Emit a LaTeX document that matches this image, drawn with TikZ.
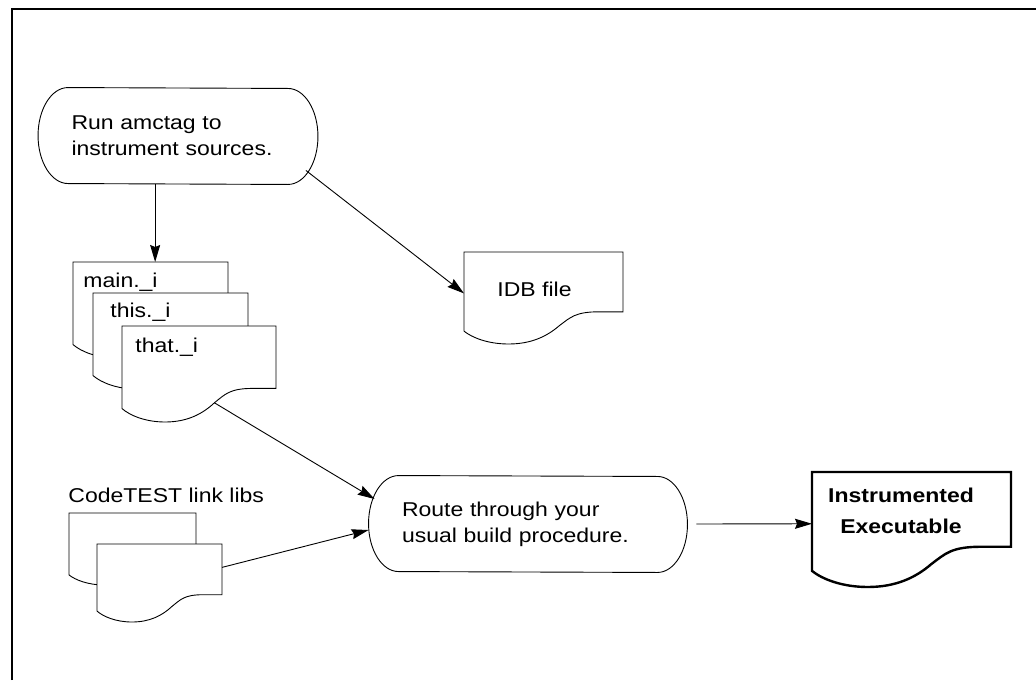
\documentclass[tikz,border=0pt]{standalone}
\usepackage{fontspec}
\setmainfont{Liberation Sans}[FakeStretch=1.15]
\usetikzlibrary{arrows.meta}

\tikzset{
  docpage/.pic={
    \draw[fill=white] (0,0) -- (1,0) -- (1,-0.65) -- (0.85,-0.65)
      .. controls (0.7,-0.65) and (0.67,-0.71) .. (0.6,-0.8)
      .. controls (0.52,-0.92) and (0.42,-1) .. (0.28,-1)
      .. controls (0.15,-1) and (0.05,-0.93) .. (0,-0.86) -- cycle;
    \coordinate (-top) at (0.53,0);
    \coordinate (-wave) at (0.6,-0.8);
    \coordinate (-west) at (0,-0.45);
    \coordinate (-east) at (1,-0.3);
  }
}
\newcommand{\capsule}[1]{%
  \draw ([xshift=30pt]#1.north west)
    arc[start angle=90,end angle=270,x radius=30pt,y radius=48pt]
    -- ([xshift=-30pt]#1.south east)
    arc[start angle=-90,end angle=90,x radius=30pt,y radius=48pt] -- cycle;}

\begin{document}
\begin{tikzpicture}[x=1pt,y=1pt,line width=0.9pt,
    every node/.style={font=\fontsize{20pt}{26pt}\selectfont},
    terminal/.style={minimum height=96pt,inner xsep=33pt,inner ysep=0pt,align=left},
    lbl/.style={anchor=base west,inner sep=0pt},
    flow/.style={-{Stealth[length=17pt,width=10pt,inset=2pt]}},
    frame/.style={line width=1.5pt}]
  \useasboundingbox (0,0) rectangle (1036,-680);
  \draw[frame] (12,-680) -- (12,-9) -- (1036,-9);

  \node[terminal,text width=213pt] (run) at (178,-136) {Run amctag to\\instrument sources.};
  \capsule{run}
  \node[terminal,text width=252pt] (route) at (528,-524) {Route through your\\usual build procedure.};
  \capsule{route}

  \pic[xscale=155,yscale=96] (main) at (73,-262) {docpage};
  \node[lbl] (main-txt) at (83,-287) {main.\_i};
  \pic[xscale=155,yscale=96] (this) at (93,-293) {docpage};
  \node[lbl] (this-txt) at (110,-317) {this.\_i};
  \pic[xscale=154,yscale=96] (that) at (122,-326) {docpage};
  \node[lbl] (that-txt) at (135,-352) {that.\_i};

  \pic[xscale=159,yscale=92] (idb) at (464,-252) {docpage};
  \node[lbl] (idb-txt) at (497,-296) {IDB file};

  \node[lbl] (libs) at (68,-502) {CodeTEST link libs};
  \pic[xscale=127,yscale=72] (libsA) at (69,-513) {docpage};
  \pic[xscale=125,yscale=78] (libsB) at (97,-544) {docpage};

  \pic[xscale=199,yscale=115,line width=2.4pt] (exe) at (812,-472) {docpage};
  \node[font=\fontsize{20pt}{31pt}\selectfont\bfseries,align=center,inner sep=0pt] (exe-txt) at (901,-511) {Instrumented\\Executable};

  \draw[flow] (run.south -| main-top) -- (main-top);
  \draw[flow] ([shift={(-12pt,14pt)}]run.south east) -- (idb-west);
  \draw[flow] (that-wave) -- ([shift={(6pt,25pt)}]route.west);
  \draw[flow] (libsB-east) -- ([yshift=-6pt]route.west);
  \draw[flow] ([xshift=9pt]route.east) -- (exe-west);
\end{tikzpicture}
\end{document}
